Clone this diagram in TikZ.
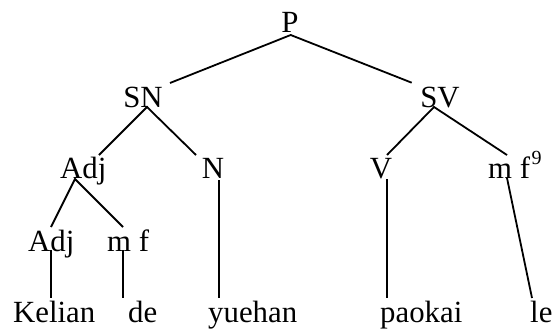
\documentclass[tikz,border=0pt]{standalone}
\usepackage{fontspec}
\setmainfont{Liberation Serif}
\begin{document}
\begin{tikzpicture}[x=1pt,y=-1pt,
  lbl/.style={anchor=base west,inner sep=0pt,font=\fontsize{30.8}{36}\selectfont},
  edge/.style={line width=1.8pt}]
\useasboundingbox (0,0) rectangle (553,329);
% labels
\node[lbl,anchor=base] (P) at (290,33) {P};
\node[lbl,anchor=base] (SN) at (143,107) {SN};
\node[lbl,anchor=base] (SV) at (440,107) {SV};
\node[lbl] (Adj) at (60,178) {Adj};
\node[lbl,anchor=base] (N) at (213,178) {N};
\node[lbl,anchor=base] (V) at (381,178) {V};
\node[lbl] (mfn) at (488,178) {m f\hspace{1.5pt}\raisebox{14pt}{\fontsize{20}{22}\selectfont 9}};
\node[lbl] (Adjb) at (28,251) {Adj};
\node[lbl] (mf) at (107,251) {m f};
\node[lbl] (Kelian) at (13,322) {Kelian};
\node[lbl] (de) at (128,322) {de};
\node[lbl] (yuehan) at (208,322) {yuehan};
\node[lbl] (paokai) at (380,322) {paokai};
\node[lbl] (le) at (530,322) {le};
% connector ends
\coordinate (Pb) at (290.7,35);
\coordinate (SNt) at (170,83);
\coordinate (SVt) at (411.7,82.7);
\coordinate (SNb) at (147,107);
\coordinate (Adjt) at (99,155);
\coordinate (Nt) at (196,155);
\coordinate (SVb) at (434,107);
\coordinate (Vt) at (387,155);
\coordinate (mfnt) at (507,155);
\coordinate (Adjbot) at (75,179);
\coordinate (Adjbt) at (51,227);
\coordinate (mft) at (123,227);
\coordinate (Adjbb) at (51,250);
\coordinate (Keliant) at (51,298);
\coordinate (mfb) at (123,250);
\coordinate (det) at (123,298);
\coordinate (Nb) at (219,180);
\coordinate (yuehant) at (219,298);
\coordinate (Vb) at (387,179);
\coordinate (paokait) at (387,298);
\coordinate (mfnb) at (507,178);
\coordinate (let) at (532,298);
% connectors
\draw[edge] (SNt) -- (Pb) -- (SVt);
\draw[edge] (Adjt) -- (SNb) -- (Nt);
\draw[edge] (Vt) -- (SVb) -- (mfnt);
\draw[edge] (Adjbt) -- (Adjbot) -- (mft);
\draw[edge] (Adjbb) -- (Keliant);
\draw[edge] (mfb) -- (det);
\draw[edge] (Nb) -- (yuehant);
\draw[edge] (Vb) -- (paokait);
\draw[edge] (mfnb) -- (let);
\end{tikzpicture}
\end{document}
